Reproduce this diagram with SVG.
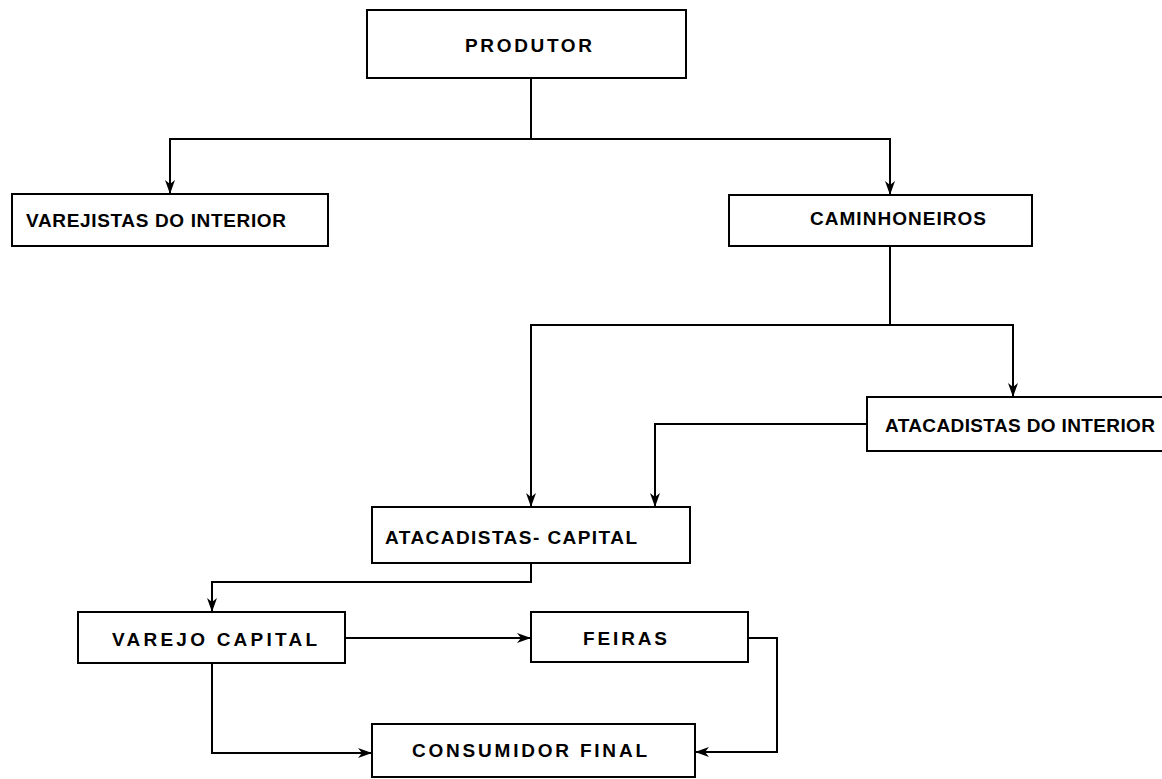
<svg xmlns="http://www.w3.org/2000/svg" width="1162" height="779" viewBox="0 0 1162 779">
<style>
.box{fill:#fff;stroke:#000;stroke-width:2}
.lbl{font-family:"Liberation Sans",Arial,sans-serif;font-weight:bold;font-size:19px;fill:#000;dominant-baseline:central}
.con{fill:none;stroke:#000;stroke-width:2}
</style>
<defs>
<marker id="arr" viewBox="0 0 14 10" refX="14" refY="5" markerWidth="14" markerHeight="10" markerUnits="userSpaceOnUse" orient="auto">
<path d="M0,0 L14,5 L0,10 L4,5 z" fill="#000"/>
</marker>
</defs>
<rect width="1162" height="779" fill="#fff"/>
<g id="connectors">
<path class="con" d="M531,78 V139"/>
<path class="con" d="M531,139 H170 V194" marker-end="url(#arr)"/>
<path class="con" d="M531,139 H890 V195" marker-end="url(#arr)"/>
<path class="con" d="M890,246 V325"/>
<path class="con" d="M890,325 H531 V507" marker-end="url(#arr)"/>
<path class="con" d="M890,325 H1013 V397" marker-end="url(#arr)"/>
<path class="con" d="M867,424 H655 V507" marker-end="url(#arr)"/>
<path class="con" d="M531,563 V582 H212 V612" marker-end="url(#arr)"/>
<path class="con" d="M345,638 H531" marker-end="url(#arr)"/>
<path class="con" d="M212,663 V753 H372" marker-end="url(#arr)"/>
<path class="con" d="M748,638 H777 V752 H695" marker-end="url(#arr)"/>
</g>
<g id="produtor">
<rect class="box" x="367" y="10" width="319" height="68"/>
<text class="lbl" x="465" y="45" textLength="127" lengthAdjust="spacing">PRODUTOR</text>
</g>
<g id="varejistas-interior">
<rect class="box" x="12" y="194" width="316" height="52"/>
<text class="lbl" x="26" y="220" textLength="260" lengthAdjust="spacing">VAREJISTAS DO INTERIOR</text>
</g>
<g id="caminhoneiros">
<rect class="box" x="729" y="195" width="303" height="51"/>
<text class="lbl" x="810" y="218" textLength="176" lengthAdjust="spacing">CAMINHONEIROS</text>
</g>
<g id="atacadistas-interior">
<rect class="box" x="867" y="397" width="300" height="54"/>
<text class="lbl" x="885" y="425" textLength="270" lengthAdjust="spacing">ATACADISTAS DO INTERIOR</text>
</g>
<g id="atacadistas-capital">
<rect class="box" x="372" y="507" width="318" height="56"/>
<text class="lbl" x="385" y="537" textLength="252" lengthAdjust="spacing">ATACADISTAS- CAPITAL</text>
</g>
<g id="varejo-capital">
<rect class="box" x="78" y="612" width="267" height="51"/>
<text class="lbl" x="112" y="639" textLength="205" lengthAdjust="spacing">VAREJO CAPITAL</text>
</g>
<g id="feiras">
<rect class="box" x="531" y="612" width="217" height="50"/>
<text class="lbl" x="583" y="638" textLength="84" lengthAdjust="spacing">FEIRAS</text>
</g>
<g id="consumidor-final">
<rect class="box" x="372" y="724" width="323" height="53"/>
<text class="lbl" x="412" y="750" textLength="235" lengthAdjust="spacing">CONSUMIDOR FINAL</text>
</g>
</svg>
